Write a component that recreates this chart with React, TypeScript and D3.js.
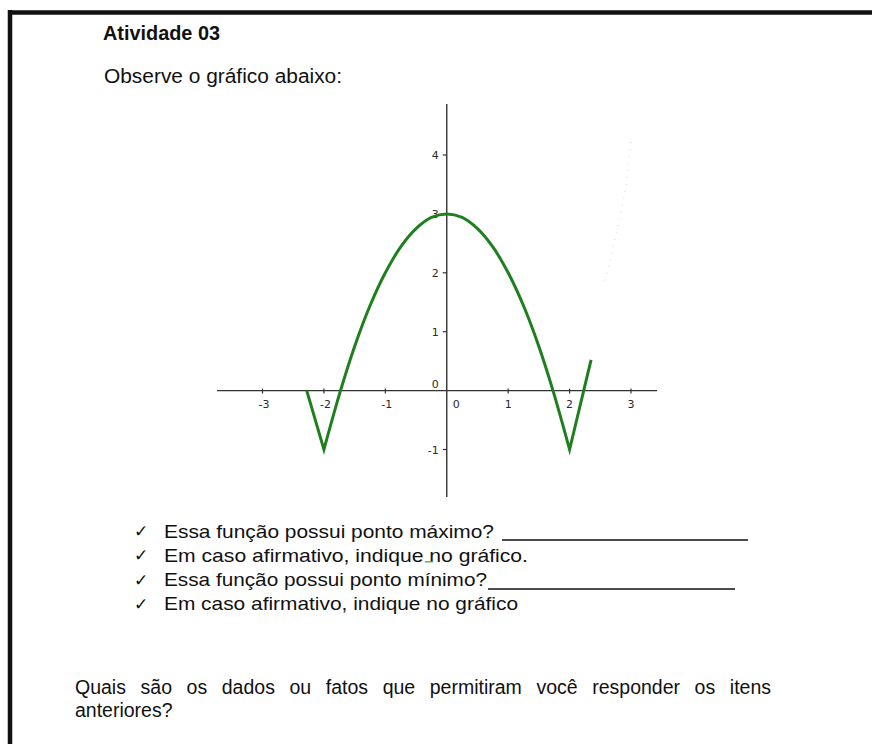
import React, { useMemo } from "react";
import * as d3 from "d3";

// Function graph: V-shaped arms joined to a parabola-like arc
const leftArmX = [-2.28, -2.0];
const leftArmY = [0, -1];
const arcX = [-2.0, -1.73, -1.5, -1.25, -1.0, -0.75, -0.5, -0.25, 0, 0.25, 0.5, 0.75, 1.0, 1.25, 1.5, 1.73, 2.0];
const arcY = [-1, 0, 0.75, 1.44, 2.0, 2.44, 2.75, 2.94, 3, 2.94, 2.75, 2.44, 2.0, 1.44, 0.75, 0, -1];
const rightArmX = [2.0, 2.35];
const rightArmY = [-1, 0.52];

// Faint leftover trace on the upper right
const traceX = [2.57, 2.62, 2.81, 2.85, 2.91, 3.0];
const traceY = [1.87, 2.04, 2.9, 3.13, 3.4, 4.24];

const xTicks = [-3, -2, -1, 1, 2, 3];
const yTicks = [-1, 1, 2, 3, 4];

const title = "Atividade 03";
const prompt = "Observe o gráfico abaixo:";
const questions = [
  "Essa função possui ponto máximo?",
  "Em caso afirmativo, indique no gráfico.",
  "Essa função possui ponto mínimo?",
  "Em caso afirmativo, indique no gráfico",
];
const closingLine1 = "Quais são os dados ou fatos que permitiram você responder os itens";
const closingLine2 = "anteriores?";

const FONT = "'Liberation Sans', Arial, sans-serif";

function pts(xs: number[], ys: number[]): [number, number][] {
  return xs.map((x, i) => [x, ys[i]]);
}

function justify(text: string, left: number, right: number, fontPx: number) {
  const words = text.split(" ");
  const ctx = document.createElement("canvas").getContext("2d")!;
  ctx.font = `${fontPx}px 'Liberation Sans'`;
  const widths = words.map((w) => ctx.measureText(w).width);
  const total = widths.reduce((a, b) => a + b, 0);
  const gap = (right - left - total) / (words.length - 1);
  let x = left;
  return words.map((w, i) => {
    const pos = x;
    x += widths[i] + gap;
    return { w, x: pos };
  });
}

export default function App() {
  const x = d3.scaleLinear().domain([-3, 3]).range([262.5, 631]);
  const y = d3.scaleLinear().domain([-1, 4]).range([449.5, 155]);

  const curvePath = useMemo(() => {
    const lin = d3.line().x((d) => x(d[0])).y((d) => y(d[1]));
    const smooth = d3
      .line()
      .x((d) => x(d[0]))
      .y((d) => y(d[1]))
      .curve(d3.curveCatmullRom.alpha(0.5));
    const strip = (s: string) => s.replace(/^M[-\d.,e]+/, "");
    return (
      (lin(pts(leftArmX, leftArmY)) || "") +
      strip(smooth(pts(arcX, arcY)) || "") +
      strip(lin(pts(rightArmX, rightArmY)) || "")
    );
  }, []);

  const tracePath = d3
    .line()
    .x((d) => x(d[0]))
    .y((d) => y(d[1]))(pts(traceX, traceY));

  const closingWords = justify(closingLine1, 75, 771, 19.5);

  const qBaselines = [537.5, 561.8, 586, 610.3];
  const qLengths = [330, 364, 323, 354];
  const x0 = x(0);
  const y0 = y(0);

  return (
    <svg
      width={872}
      height={744}
      style={{ position: "absolute", left: 0, top: 0, background: "#fff" }}
      fontFamily={FONT}
    >
      <rect x={0} y={0} width={872} height={744} fill="#fff" />
      {/* page frame */}
      <line x1={8} y1={12.5} x2={872} y2={12.5} stroke="#111" strokeWidth={4.5} />
      <line x1={10} y1={10} x2={10} y2={744} stroke="#111" strokeWidth={4.5} />

      <text x={103} y={40} fontSize={19.5} fontWeight="bold" fill="#111" textLength={117} lengthAdjust="spacingAndGlyphs">
        {title}
      </text>
      <text x={104} y={82.5} fontSize={19.5} fill="#111" textLength={238} lengthAdjust="spacingAndGlyphs">
        {prompt}
      </text>

      {/* axes */}
      <g stroke="#333" strokeWidth={1.4}>
        <line x1={217} y1={y0} x2={657} y2={y0} />
        <line x1={x0} y1={104} x2={x0} y2={497} />
        {xTicks.map((t) => (
          <line key={"xt" + t} x1={x(t)} y1={y0 - 2} x2={x(t)} y2={y0 + 3} strokeWidth={1.2} />
        ))}
        {yTicks.map((t) => (
          <line key={"yt" + t} x1={x0 - 4} y1={y(t)} x2={x0} y2={y(t)} strokeWidth={1.2} />
        ))}
      </g>
      <g fill="#2a2a2a" fontSize={11} fontFamily="'DejaVu Sans', sans-serif">
        {xTicks.map((t) => (
          <text key={"xl" + t} x={x(t) + (t < 0 ? 1.5 : 0)} y={y0 + 17} textAnchor="middle">
            {t < 0 ? "-" + Math.abs(t) : String(t)}
          </text>
        ))}
        {yTicks.map((t) => (
          <text key={"yl" + t} x={x0 - 8} y={y(t) + 4} textAnchor="end">
            {t < 0 ? "-" + Math.abs(t) : String(t)}
          </text>
        ))}
        <text x={x0 - 8} y={y0 - 3} textAnchor="end">0</text>
        <text x={x0 + 6} y={y0 + 17}>0</text>
      </g>

      {tracePath && (
        <path d={tracePath} fill="none" stroke="#2e8b2e" strokeWidth={1.5} strokeDasharray="1 6" opacity={0.18} />
      )}
      <path
        d={curvePath}
        fill="none"
        stroke="#1f7f1f"
        strokeWidth={3}
        strokeLinejoin="miter"
        strokeMiterlimit={10}
      />

      {/* checklist */}
      {questions.map((q, i) => (
        <g key={"q" + i}>
          <text x={134} y={qBaselines[i] - 0.5} fontSize={17} fill="#111" fontFamily="'DejaVu Sans', sans-serif">
            ✓
          </text>
          <text
            x={164}
            y={qBaselines[i]}
            fontSize={19}
            fill="#111"
            textLength={qLengths[i]}
            lengthAdjust="spacingAndGlyphs"
          >
            {q}
          </text>
        </g>
      ))}
      <line x1={502} y1={540} x2={748} y2={540} stroke="#111" strokeWidth={1.3} />
      <line x1={488} y1={589} x2={735} y2={589} stroke="#111" strokeWidth={1.3} />
      <path
        d="M425,561 q1,3 2,0 q1,3 2,0 q1,3 2,0 q1,3 2,0"
        fill="none"
        stroke="#3cb043"
        strokeWidth={1}
      />

      {/* closing question, justified */}
      {closingWords.map((w, i) => (
        <text key={"cw" + i} x={w.x} y={694} fontSize={19.5} fill="#111">
          {w.w}
        </text>
      ))}
      <text x={75} y={717} fontSize={19.5} fill="#111">
        {closingLine2}
      </text>
    </svg>
  );
}
